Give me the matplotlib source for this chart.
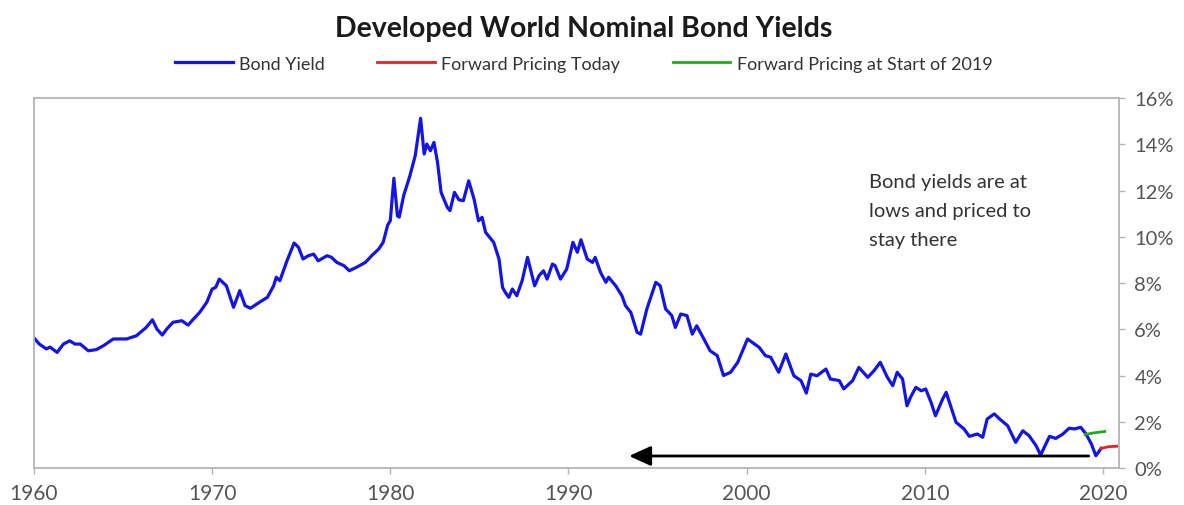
import matplotlib
matplotlib.use("Agg")
import matplotlib.pyplot as plt
from matplotlib.ticker import FuncFormatter

# Developed-world nominal 10y bond yield (%), read at irregular dates
years = [
    1960.05, 1960.3, 1960.7, 1960.9, 1961.3, 1961.65, 1962.0, 1962.3, 1962.6, 1963.05,
    1963.5, 1963.9, 1964.45, 1965.2, 1965.75, 1966.3, 1966.65, 1966.9, 1967.2, 1967.45,
    1967.8, 1968.3, 1968.65, 1968.95, 1969.3, 1969.7, 1970.0, 1970.2, 1970.4, 1970.8,
    1971.2, 1971.55, 1971.85, 1972.15, 1972.7, 1973.1, 1973.45, 1973.6, 1973.8, 1974.2,
    1974.6, 1974.85, 1975.1, 1975.4, 1975.7, 1975.95, 1976.45, 1976.7, 1977.0, 1977.4,
    1977.7, 1978.1, 1978.6, 1978.95, 1979.35, 1979.6, 1979.85, 1980.0, 1980.2, 1980.4,
    1980.5, 1980.75, 1981.1, 1981.4, 1981.7, 1981.9, 1982.05, 1982.25, 1982.45, 1982.65,
    1982.85, 1983.2, 1983.35, 1983.6, 1983.85, 1984.1, 1984.4, 1984.7, 1984.95, 1985.15,
    1985.35, 1985.8, 1986.1, 1986.3, 1986.45, 1986.65, 1986.85, 1987.1, 1987.4, 1987.7,
    1988.1, 1988.35, 1988.6, 1988.8, 1989.1, 1989.25, 1989.55, 1989.9, 1990.25, 1990.5,
    1990.7, 1991.05, 1991.35, 1991.5, 1991.8, 1992.1, 1992.25, 1992.65, 1993.0, 1993.2,
    1993.5, 1993.85, 1994.05, 1994.4, 1994.9, 1995.15, 1995.45, 1995.8, 1996.0, 1996.3,
    1996.65, 1996.95, 1997.2, 1997.6, 1997.95, 1998.35, 1998.7, 1999.1, 1999.5, 2000.05,
    2000.7, 2001.05, 2001.35, 2001.8, 2002.2, 2002.65, 2003.05, 2003.35, 2003.6, 2003.95,
    2004.45, 2004.7, 2005.2, 2005.45, 2005.95, 2006.3, 2006.8, 2007.15, 2007.5, 2007.9,
    2008.2, 2008.45, 2008.75, 2009.0, 2009.2, 2009.5, 2009.8, 2010.05, 2010.35, 2010.6,
    2011.0, 2011.2, 2011.45, 2011.75, 2012.2, 2012.5, 2012.95, 2013.25, 2013.5, 2013.9,
    2014.2, 2014.65, 2015.1, 2015.5, 2015.85, 2016.25, 2016.5, 2017.0, 2017.35, 2017.75,
    2018.1, 2018.4, 2018.75, 2019.05, 2019.35, 2019.6, 2019.9,
]
bond_yield = [
    5.58, 5.36, 5.15, 5.23, 5.00, 5.36, 5.50, 5.36, 5.36, 5.07,
    5.12, 5.29, 5.58, 5.58, 5.72, 6.08, 6.41, 6.01, 5.75, 6.01,
    6.30, 6.37, 6.18, 6.44, 6.73, 7.17, 7.74, 7.81, 8.17, 7.88,
    6.95, 7.67, 7.02, 6.91, 7.19, 7.38, 7.88, 8.25, 8.10, 8.96,
    9.73, 9.54, 9.04, 9.18, 9.25, 8.96, 9.18, 9.11, 8.89, 8.75,
    8.53, 8.68, 8.89, 9.18, 9.47, 9.76, 10.50, 10.70, 12.53, 10.90,
    10.85, 11.78, 12.64, 13.51, 15.12, 13.58, 14.01, 13.72, 14.08, 13.22,
    11.92, 11.27, 11.13, 11.92, 11.60, 11.56, 12.42, 11.63, 10.69, 10.84,
    10.19, 9.76, 9.04, 7.81, 7.60, 7.38, 7.74, 7.45, 8.10, 9.11,
    7.88, 8.32, 8.53, 8.17, 8.82, 8.75, 8.17, 8.60, 9.76, 9.33,
    9.87, 9.04, 8.89, 9.11, 8.46, 8.03, 8.25, 7.88, 7.45, 7.02,
    6.73, 5.87, 5.79, 6.88, 8.03, 7.88, 6.88, 6.59, 6.08, 6.66,
    6.59, 5.79, 6.15, 5.58, 5.07, 4.86, 4.00, 4.14, 4.57, 5.58,
    5.22, 4.86, 4.79, 4.14, 4.93, 3.99, 3.78, 3.24, 4.06, 3.99,
    4.28, 3.85, 3.78, 3.42, 3.78, 4.35, 3.92, 4.21, 4.57, 3.92,
    3.56, 4.14, 3.85, 2.69, 3.06, 3.49, 3.34, 3.42, 2.84, 2.26,
    2.98, 3.27, 2.69, 1.98, 1.69, 1.37, 1.47, 1.33, 2.12, 2.34,
    2.12, 1.83, 1.11, 1.61, 1.40, 0.96, 0.56, 1.37, 1.28, 1.47,
    1.72, 1.69, 1.76, 1.47, 1.04, 0.53, 0.85,
]

# forward curves
fwd_today_years = [2019.9, 2020.3, 2020.95]
fwd_today = [0.85, 0.92, 0.95]
fwd_2019_years = [2019.0, 2019.5, 2020.1]
fwd_2019 = [1.45, 1.52, 1.58]

# arrow marking today's level back through history
arrow_level = 0.52
arrow_from, arrow_to = 2019.2, 1993.4

plt.rcParams['font.family'] = ['Lato', 'DejaVu Sans']

fig = plt.figure(figsize=(11.84, 5.06), dpi=100)
ax = fig.add_axes([0.0287, 0.0731, 0.9164, 0.7312])

ax.plot(years, bond_yield, color='#1414e6', lw=2.3, label='Bond Yield', solid_joinstyle='round')
ax.plot(fwd_today_years, fwd_today, color='#e8202a', lw=2.0, label='Forward Pricing Today')
ax.plot(fwd_2019_years, fwd_2019, color='#1faa1f', lw=2.0, label='Forward Pricing at Start of 2019')

ax.annotate('', xy=(arrow_to, arrow_level), xytext=(arrow_from, arrow_level),
            arrowprops=dict(arrowstyle='-|>,head_length=0.55,head_width=0.25',
                            color='black', lw=2.0, mutation_scale=24,
                            shrinkA=0, shrinkB=0))

ax.text(2006.85, 12.75, 'Bond yields are at\nlows and priced to\nstay there',
        fontsize=14.5, color='#333333', va='top', ha='left', linespacing=1.85)

ax.set_xlim(1960, 2020.9)
ax.set_ylim(0, 16)
ax.set_xticks([1960, 1970, 1980, 1990, 2000, 2010, 2020])
ax.set_yticks(range(0, 17, 2))
ax.yaxis.set_major_formatter(FuncFormatter(lambda v, p: f'{v:.0f}%'))
ax.yaxis.tick_right()

for s in ax.spines.values():
    s.set_color('#b4b4b4')
    s.set_linewidth(1.3)
ax.tick_params(axis='both', colors='#b4b4b4', labelcolor='#555555', length=4, width=1)
ax.tick_params(axis='x', labelsize=15, pad=7)
ax.tick_params(axis='y', labelsize=14.5, pad=7, right=True, left=False)

fig.suptitle('Developed World Nominal Bond Yields', x=0.493, y=0.968,
             fontsize=20.5, fontweight='bold', color='#1a1a1a')
fig.legend(loc='center', bbox_to_anchor=(0.493, 0.872), ncol=3, frameon=False,
           fontsize=13, handlelength=3.2, handletextpad=0.35, columnspacing=2.9,
           labelcolor='#333333')

fig.savefig('out.png', dpi=100)
